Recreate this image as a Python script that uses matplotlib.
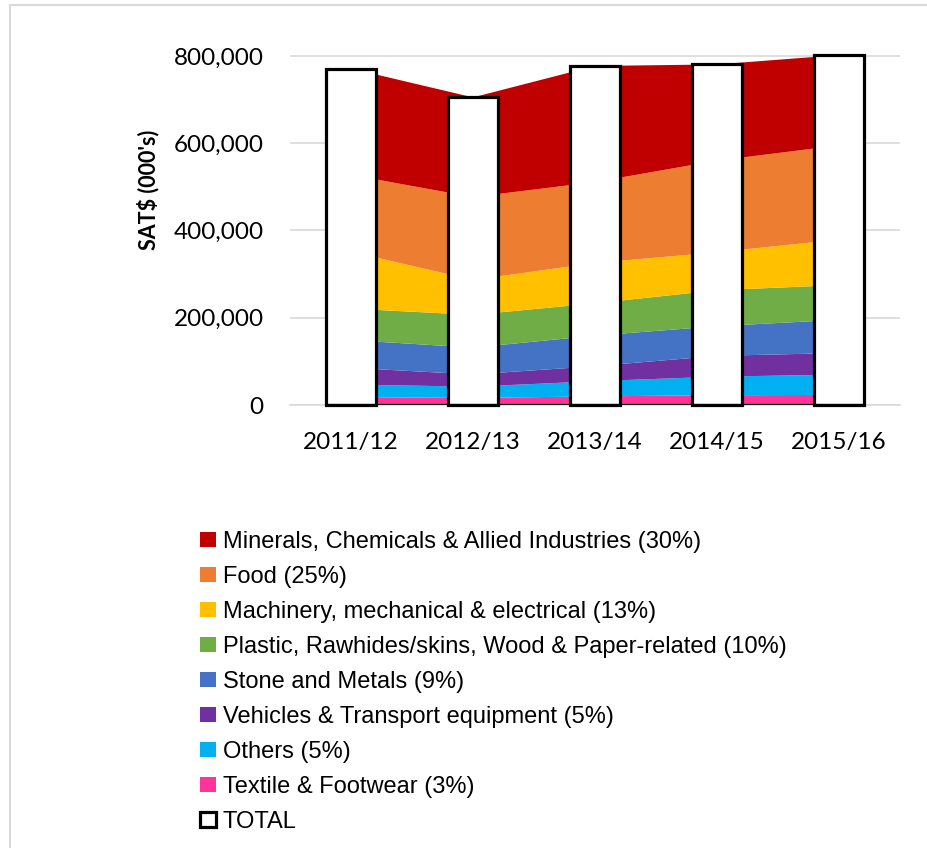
import matplotlib.pyplot as plt
from matplotlib.patches import Patch, Rectangle
from matplotlib.ticker import FuncFormatter

years = ["2011/12", "2012/13", "2013/14", "2014/15", "2015/16"]

# values in SAT$ (000's), stacked bottom -> top
textile = [18200, 16200, 19800, 22400, 23200]
others = [28600, 25800, 34800, 42600, 46400]
vehicles = [38500, 28000, 34400, 47600, 49600]
stone = [63500, 61500, 70000, 68000, 76100]
plastic = [72200, 75000, 74000, 82400, 79600]
machinery = [130200, 80200, 92500, 87000, 104300]
food = [176200, 189800, 185500, 210000, 215800]
minerals = [243600, 228500, 266000, 220500, 207000]
total = [771000, 705000, 777000, 780500, 802000]

labels = [
    "Textile & Footwear (3%)",
    "Others (5%)",
    "Vehicles & Transport equipment (5%)",
    "Stone and Metals (9%)",
    "Plastic, Rawhides/skins, Wood & Paper-related (10%)",
    "Machinery, mechanical & electrical (13%)",
    "Food (25%)",
    "Minerals, Chemicals & Allied Industries (30%)",
]
colors = ["#FF3399", "#00B0F0", "#7030A0", "#4472C4",
          "#70AD47", "#FFC000", "#ED7D31", "#C00000"]

fig = plt.figure(figsize=(9.28, 8.48), dpi=100)
ax = fig.add_axes([0.3125, 0.5224, 0.6573, 0.4168])

x = list(range(len(years)))
ax.stackplot(x, textile, others, vehicles, stone, plastic, machinery, food,
             minerals, colors=colors, zorder=2)

bar_w = 0.41
ax.bar(x, total, width=bar_w, color="white", edgecolor="black",
       linewidth=2.3, zorder=3, clip_on=False)
ax.hlines(0, x[0] - bar_w / 2, x[-1] + bar_w / 2, color="black", lw=1.6, zorder=4)

ax.set_xlim(-0.5, len(years) - 0.5)
ax.set_ylim(0, 810000)
ax.set_yticks(range(0, 800001, 200000))
ax.yaxis.set_major_formatter(FuncFormatter(lambda v, p: f"{int(v):,}"))
ax.set_xticks(x)
ax.set_xticklabels(years)
ax.grid(axis="y", color="#d9d9d9", lw=1.2, zorder=0)
ax.set_axisbelow(True)
for s in ["top", "right", "left"]:
    ax.spines[s].set_visible(False)
ax.spines["bottom"].set_color("#d9d9d9")
ax.spines["bottom"].set_linewidth(1.2)
ax.tick_params(length=0, labelsize=17.5)
ax.tick_params(axis="y", pad=19)
ax.tick_params(axis="x", pad=19.5)
for t in ax.get_xticklabels() + ax.get_yticklabels():
    t.set_family("Lato")
ax.set_ylabel("SAT$ (000's)", fontsize=15.5, fontweight="bold", family="Lato")
ax.yaxis.set_label_coords(-0.2135, 0.608)

handles = [Patch(facecolor=c, edgecolor="none") for c in colors[::-1]]
handles.append(Patch(facecolor="white", edgecolor="black", linewidth=2.3))
fig.legend(handles, labels[::-1] + ["TOTAL"], loc="upper left",
           bbox_to_anchor=(0.216, 0.374), frameon=False,
           prop={"family": "Liberation Sans", "size": 17},
           handlelength=0.65, handleheight=0.65, handletextpad=0.3,
           labelspacing=0.55, borderaxespad=0, borderpad=0)

fig.patches.append(Rectangle((10 / 928, -0.1), 1.1, (848 - 5) / 848 + 0.1,
                             transform=fig.transFigure, fill=False,
                             edgecolor="#d9d9d9", lw=1.5))

fig.savefig("out.png", dpi=100)
